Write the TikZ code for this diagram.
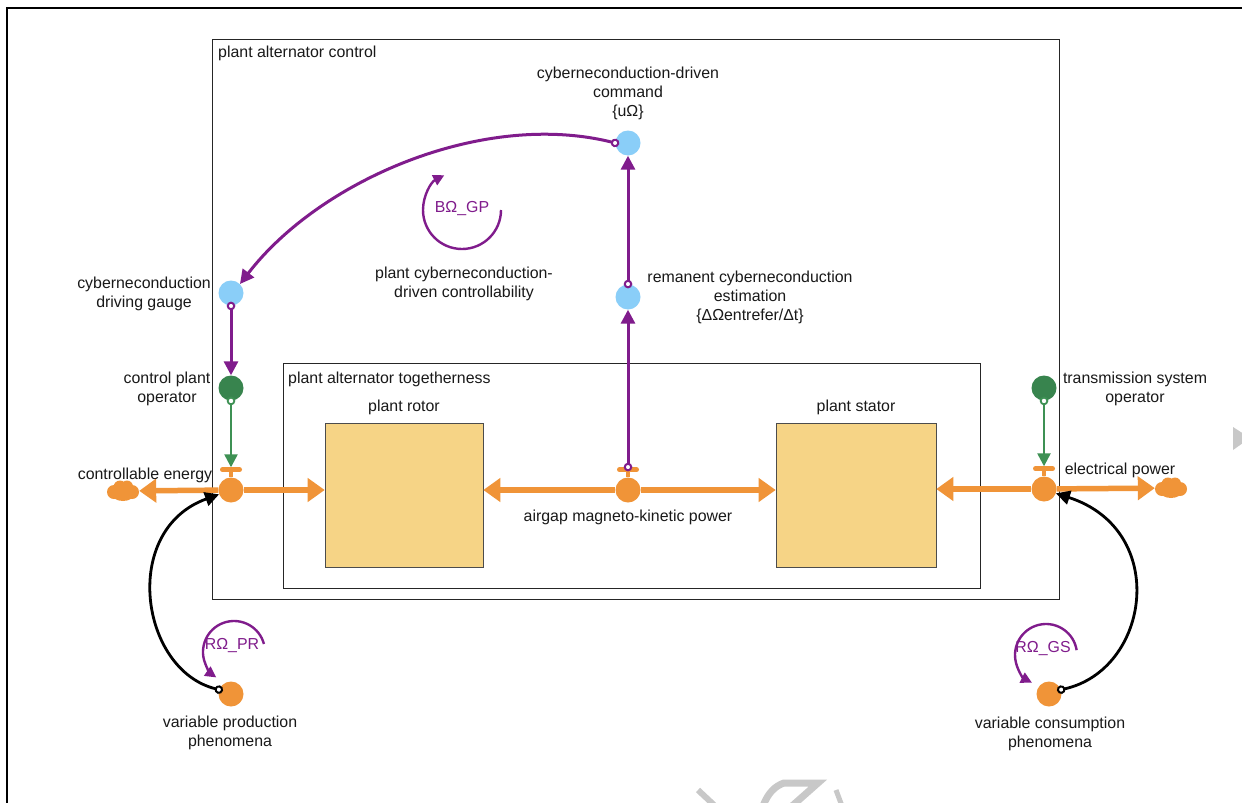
\documentclass[tikz,border=0pt]{standalone}
\usepackage{fontspec}
\setmainfont{Liberation Sans}
\usetikzlibrary{arrows.meta,calc}
\definecolor{flowor}{RGB}{240,148,56}
\definecolor{stockyel}{RGB}{246,212,134}
\definecolor{lblue}{RGB}{138,206,248}
\definecolor{dgreen}{RGB}{56,132,78}
\definecolor{lgreen}{RGB}{62,145,84}
\definecolor{purp}{RGB}{128,28,140}
\definecolor{wm}{RGB}{200,200,200}
\begin{document}
\begin{tikzpicture}[x=1pt,y=-1pt,
  font=\fontsize{15.9}{19}\selectfont,
  lbl/.style={inner sep=0pt, align=center, text=black!90},
  plbl/.style={inner sep=0pt, align=center, text=purp},
  conv/.style={circle, fill=lblue, minimum size=25pt, inner sep=0pt},
  agent/.style={circle, fill=dgreen, minimum size=25pt, inner sep=0pt},
  valve/.style={circle, fill=flowor, minimum size=25pt, inner sep=0pt},
  src/.style={circle, fill=flowor, minimum size=25pt, inner sep=0pt},
  stock/.style={rectangle, fill=stockyel, draw=black!70, line width=0.6pt, minimum height=144pt, inner sep=0pt},
  cloudnode/.style={rectangle, minimum width=32pt, minimum height=21pt, inner sep=0pt},
  boxframe/.style={draw=black!85, line width=1.3pt, inner sep=0pt, anchor=north west},
  flow/.style={draw=flowor, line width=5.5pt, -{Triangle[length=17pt,width=23pt]}},
  plink/.style={draw=purp, line width=3pt, {Circle[length=8.5pt,width=8.5pt,fill=white,line width=2pt]}-{Triangle[length=14pt,width=14pt]}, shorten <=-4pt},
  glink/.style={draw=lgreen, line width=2.4pt, {Circle[length=8.5pt,width=8.5pt,fill=white,line width=1.8pt]}-{Triangle[length=13pt,width=13pt]}, shorten <=-4pt},
  blink/.style={draw=black, line width=2.8pt, {Circle[length=8.5pt,width=8.5pt,fill=white,line width=2pt]}-{Triangle[length=14pt,width=14pt]}, shorten <=-4pt},
  loopa/.style={draw=purp, line width=2.4pt, -{Triangle[length=11pt,width=11pt]}}
]
\useasboundingbox (0,0) rectangle (1242,803);
\fill[white] (0,0) rectangle (1242,803);
\clip (0,0) rectangle (1242,803);

% page frame and watermark
\draw[line width=2pt] (7,820) -- (7,8) -- (1260,8);
\fill[wm] (1233,427) -- (1250,438) -- (1233,450) -- cycle;
\draw[wm, line width=6pt] (698,790) -- (714,805);
\draw[wm, line width=7pt] (763,806) .. controls (768,793) and (775,786) .. (784,783) -- (818,783) -- (792,806);
\draw[wm, line width=5pt] (836,790) -- (842,806);

% boxes
\node[boxframe, minimum width=847pt, minimum height=560pt] (pac) at (212,39) {};
\node[lbl, anchor=base west] at (218,57) {plant alternator control};
\node[boxframe, minimum width=697pt, minimum height=225pt] (pat) at (283,363) {};
\node[lbl, anchor=base west] at (288,383) {plant alternator togetherness};

% stocks
\node[stock, minimum width=158pt] (rotor) at (404,495) {};
\node[stock, minimum width=160pt] (stator) at (856,495) {};
\node[lbl] at (404,407) {plant rotor};
\node[lbl] at (856,407) {plant stator};

% valves and clouds
\node[valve] (v1) at (231,490) {};
\node[valve] (v2) at (628,490) {};
\node[valve] (v3) at (1044,489) {};
\node[cloudnode] (cloudL) at (123,491) {};
\node[cloudnode] (cloudR) at (1171,488) {};
\foreach \c in {cloudL,cloudR}{
  \fill[flowor] ([xshift=-9pt,yshift=-1pt]\c.center) circle[radius=7pt]
                ([xshift=9pt,yshift=-1pt]\c.center) circle[radius=7pt]
                ([xshift=-3pt,yshift=4pt]\c.center) circle[radius=6.5pt]
                ([xshift=4pt,yshift=4.5pt]\c.center) circle[radius=6pt]
                ([yshift=-2pt]\c.center) ellipse[x radius=12pt, y radius=8pt];
}
\foreach \v in {v1,v2,v3}{
  \fill[flowor] ([xshift=-2pt]\v.north) rectangle ([xshift=2pt,yshift=8pt]\v.north);
  \draw[flowor, line width=5pt, line cap=round] ([xshift=-8.5pt,yshift=7.5pt]\v.north) -- ([xshift=8.5pt,yshift=7.5pt]\v.north);
}
\coordinate (v1bar) at ([yshift=10pt]v1.north);
\coordinate (v2bar) at ([yshift=10pt]v2.north);
\coordinate (v3bar) at ([yshift=10pt]v3.north);

% flows
\draw[flow] (v1) -- (cloudL);
\draw[flow] (v1) -- (v1 -| rotor.west);
\draw[flow] (v2) -- (v2 -| rotor.east);
\draw[flow] (v2) -- (v2 -| stator.west);
\draw[flow] (v3) -- (v3 -| stator.east);
\draw[flow] (v3) -- (cloudR);
\node[lbl] at (145,475) {controllable energy};
\node[lbl] at (1120,470) {electrical power};
\node[lbl] at (628,517) {airgap magneto-kinetic power};

% converters and agents
\node[conv] (cmd) at (628,143) {};
\node[conv] (est) at (628,297) {};
\node[conv] (gauge) at (231,293) {};
\node[agent] (cpo) at (231,388) {};
\node[agent] (tso) at (1044,388) {};
\node[src] (vp) at (231,694) {};
\node[src] (vc) at (1049,694) {};

\node[lbl] at (628,93) {cyberneconduction-driven\\command\\\{uΩ\}};
\node[lbl] at (750,297) {remanent cyberneconduction\\estimation\\\{ΔΩentrefer/Δt\}};
\node[lbl] at (144,294) {cyberneconduction\\driving gauge};
\node[lbl] at (167,389) {control plant\\operator};
\node[lbl] at (1135,389) {transmission system\\operator};
\node[lbl] at (230,733) {variable production\\phenomena};
\node[lbl] at (1050,734) {variable consumption\\phenomena};
\node[lbl] at (464,284) {plant cyberneconduction-\\driven controllability};

% links
\draw[plink] (cmd.west) .. controls (483,110) and (320,180) .. (gauge.45);
\draw[plink] (est) -- (cmd);
\draw[plink] (v2bar) -- (est);
\draw[plink] (gauge) -- (cpo);
\draw[glink] (cpo) -- (v1bar);
\draw[glink] (tso) -- (v3bar);
\draw[blink] (vp.160) .. controls (140,670) and (120,530) .. (v1.200);
\draw[blink] (vc.20) .. controls (1150,670) and (1170,530) .. (v3.-20);

% loops
\draw[loopa] (501,210) arc[start angle=0, end angle=-243, radius=39pt];
\node[plbl] at (462,209) {BΩ\_GP};
\draw[loopa] ($(234,652)+(15:31pt)$) arc[start angle=15, end angle=235, radius=31pt];
\node[plbl] at (232,646) {RΩ\_PR};
\draw[loopa] ($(1046,655)+(9:31pt)$) arc[start angle=9, end angle=243, radius=31pt];
\node[plbl] at (1043,649) {RΩ\_GS};
\end{tikzpicture}
\end{document}
